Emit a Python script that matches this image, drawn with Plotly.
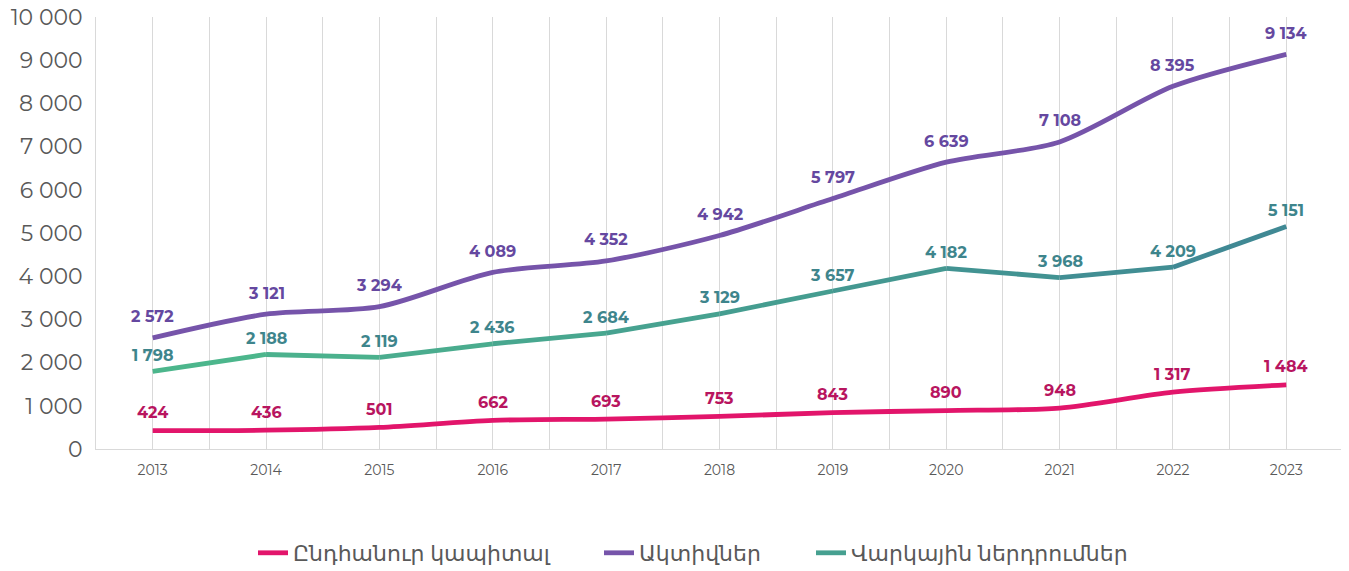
import plotly.graph_objects as go

years = [2013, 2014, 2015, 2016, 2017, 2018, 2019, 2020, 2021, 2022, 2023]
capital = [424, 436, 501, 662, 693, 753, 843, 890, 948, 1317, 1484]
assets = [2572, 3121, 3294, 4089, 4352, 4942, 5797, 6639, 7108, 8395, 9134]
loans = [1798, 2188, 2119, 2436, 2684, 3129, 3657, 4182, 3968, 4209, 5151]

names = ["Ընդհանուր կապիտալ", "Ակտիվներ", "Վարկային ներդրումներ"]

PINK = "#E2156B"
PINK_LBL = "#B8155F"
PURPLE = "#7654AA"
PURPLE_LBL = "#6548A0"
TEAL_LBL = "#3E858C"
GREEN_START = (77, 184, 140)
TEAL_END = (63, 135, 148)

FONT = "Montserrat, 'DejaVu Sans', 'Open Sans', sans-serif"


def fmt(v):
    return f"{v:,}".replace(",", " ")


def mix(t):
    c = [round(a + (b - a) * t) for a, b in zip(GREEN_START, TEAL_END)]
    return "rgb({},{},{})".format(*c)


fig = go.Figure()

fig.add_trace(go.Scatter(x=years, y=capital, name=names[0], mode="lines", legend="legend",
                         line=dict(color=PINK, width=4.8, shape="spline", smoothing=0.8)))
fig.add_trace(go.Scatter(x=years, y=assets, name=names[1], mode="lines", legend="legend2",
                         line=dict(color=PURPLE, width=4.8, shape="spline", smoothing=0.8)))
# legend entry for loans
fig.add_trace(go.Scatter(x=[None], y=[None], name=names[2], mode="lines", legend="legend3",
                         line=dict(color=mix(0.5), width=4.8)))
# gradient segments for loans
n = len(years)
for i in range(n - 1):
    fig.add_trace(go.Scatter(x=years[i:i + 2], y=loans[i:i + 2], mode="lines",
                             showlegend=False, hoverinfo="skip",
                             line=dict(color=mix((i + 0.5) / (n - 1)), width=4.8)))

annotations = []
for series, color, shift in [(capital, PINK_LBL, 18), (assets, PURPLE_LBL, 21), (loans, TEAL_LBL, 16)]:
    for x, y in zip(years, series):
        annotations.append(dict(x=x, y=y, text="<b>" + fmt(y) + "</b>", showarrow=False,
                                yshift=shift, font=dict(family=FONT, size=16, color=color)))

leg_common = dict(orientation="h", xref="container", yref="container",
                  xanchor="left", y=1 - 545 / 571, yanchor="middle",
                  font=dict(family=FONT, size=22, color="#595959"),
                  bgcolor="rgba(0,0,0,0)")

fig.update_layout(
    width=1349, height=571,
    margin=dict(l=88, r=14, t=9, b=130),
    paper_bgcolor="white", plot_bgcolor="white",
    separators=". ",
    annotations=annotations,
    showlegend=True,
    legend=dict(x=245 / 1349, **leg_common),
    legend2=dict(x=591 / 1349, **leg_common),
    legend3=dict(x=803 / 1349, **leg_common),
    xaxis=dict(range=[2012.5, 2023.5], tick0=2013, dtick=1, showgrid=True,
               gridcolor="#D9D9D9", gridwidth=1, automargin=False,
               minor=dict(dtick=0.5, tick0=2012.5, showgrid=True, gridcolor="#D9D9D9", gridwidth=1),
               showline=True, linecolor="#D9D9D9", linewidth=1, zeroline=False,
               ticks="", tickfont=dict(family=FONT, size=14, color="#595959"), ticklabelstandoff=8),
    yaxis=dict(range=[0, 10000], dtick=1000, showgrid=False, zeroline=False, automargin=False,
               showline=True, mirror=True, linecolor="#D9D9D9", linewidth=1,
               tickformat=",d", ticks="", ticklabelstandoff=8, ticklabeloverflow="allow",
               tickfont=dict(family=FONT, size=22, color="#595959")),
)

fig.write_html("out.html")
